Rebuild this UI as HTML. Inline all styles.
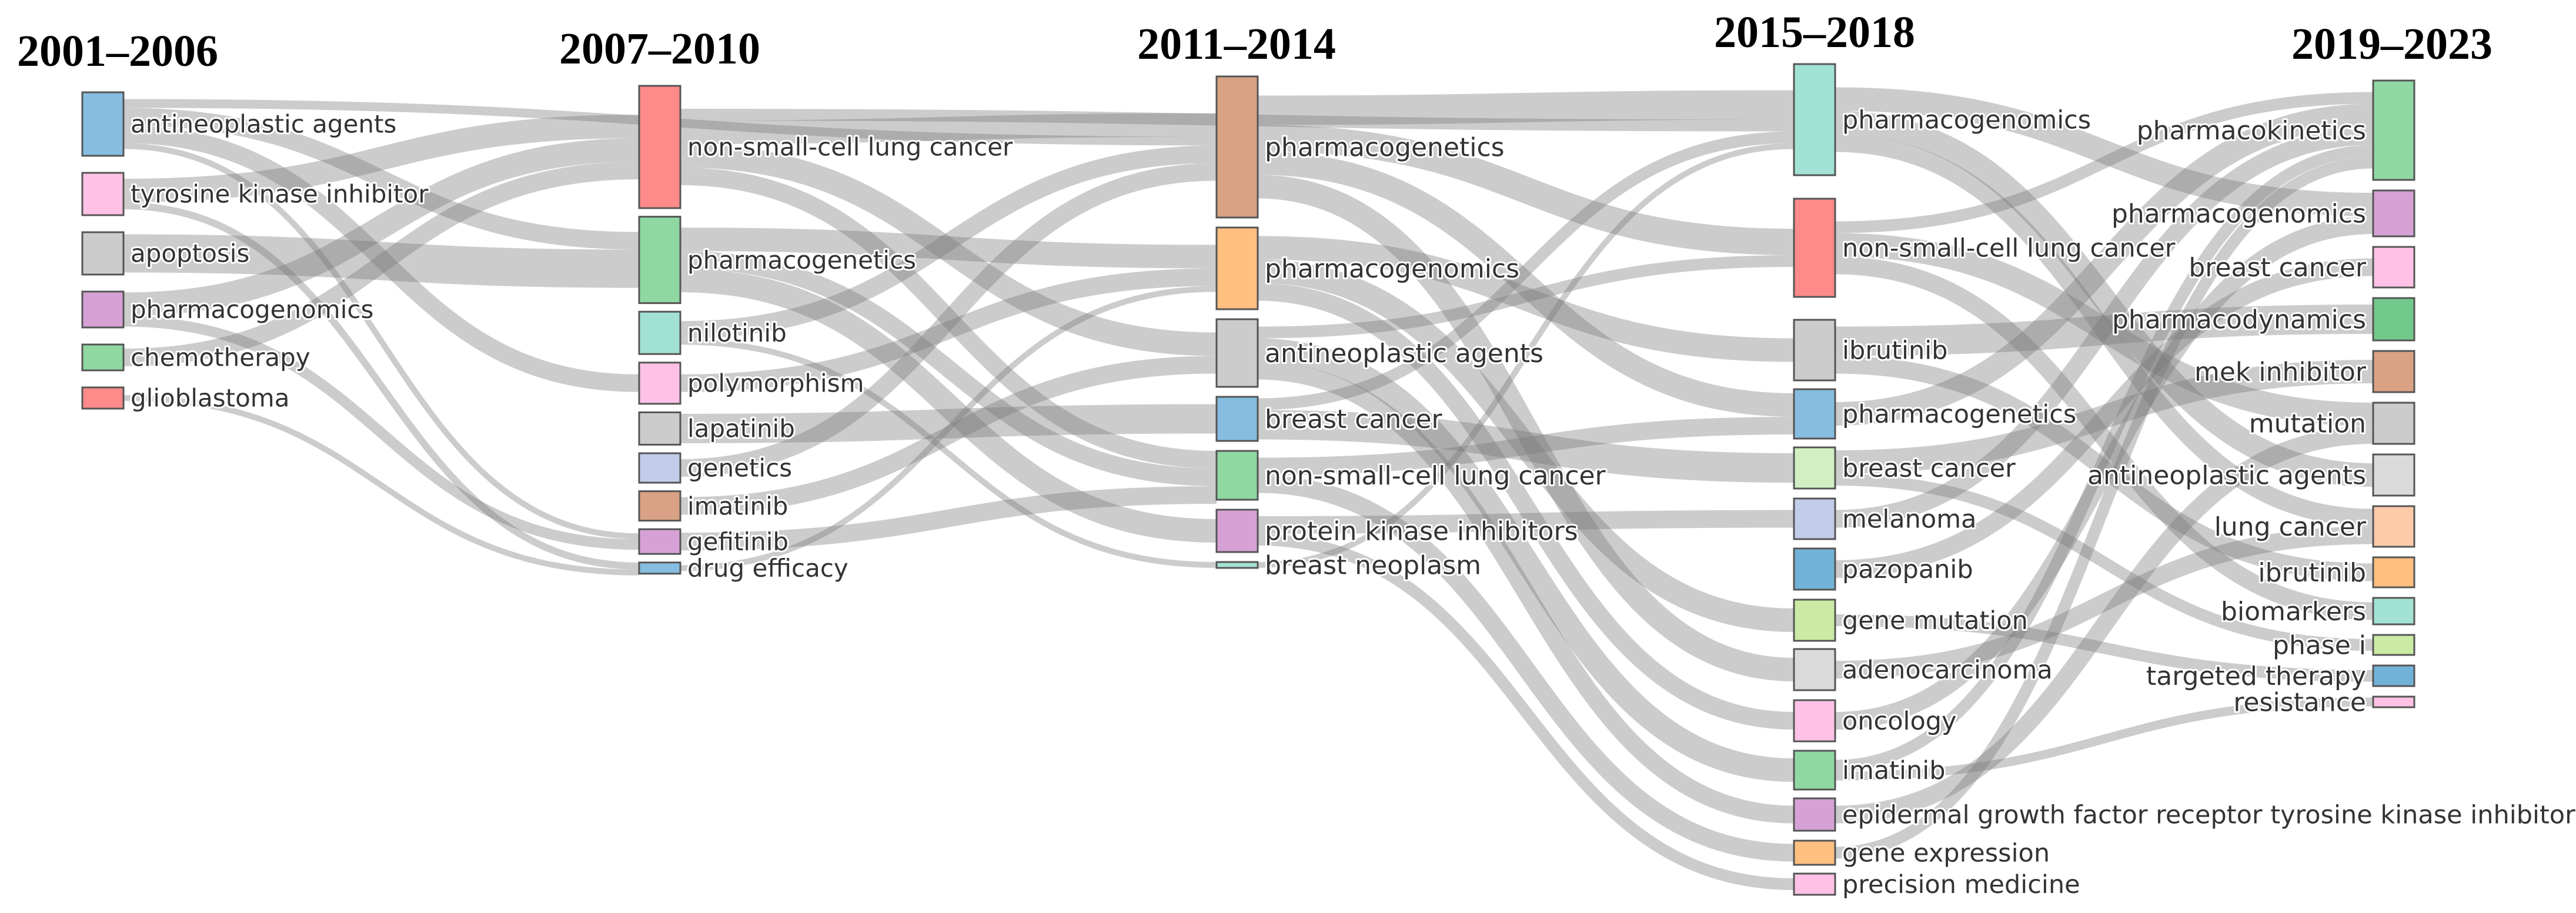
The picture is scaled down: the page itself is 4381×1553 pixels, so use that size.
<!DOCTYPE html>
<html><head><meta charset="utf-8">
<style>
html,body{margin:0;padding:0;background:#fff;}
svg{display:block;}
.lbl{font-family:"DejaVu Sans","Liberation Sans",sans-serif;fill:#333;paint-order:stroke;stroke:#fff;stroke-width:6px;stroke-linejoin:round;}
.ttl{font-family:"Liberation Serif",serif;font-weight:bold;fill:#000;}
</style></head>
<body>
<svg id="chart" width="4381" height="1553" viewBox="0 0 4381 1553" xmlns="http://www.w3.org/2000/svg">
<g id="links"></g>
<g id="nodes"></g>
<g id="titles"></g>
</svg>
<script>
// ---- data ----
const periods = ["2001–2006","2007–2010","2011–2014","2015–2018","2019–2023"];
const col1Names = ["antineoplastic agents","tyrosine kinase inhibitor","apoptosis","pharmacogenomics","chemotherapy","glioblastoma"];
const col1Values = [10.8,7.2,7.2,6.1,4.4,3.6];
const col1Colors = ["#86bde0","#ffc2e6","#cccccc","#d6a2d6","#8fd8a2","#ff8a8a"];
const col2Names = ["non-small-cell lung cancer","pharmacogenetics","nilotinib","polymorphism","lapatinib","genetics","imatinib","gefitinib","drug efficacy"];
const col2Values = [20.8,14.7,7.2,7.0,5.5,5.0,5.0,4.2,1.9];
const col2Colors = ["#ff8a8a","#8fd8a2","#a2e2d4","#ffc2e6","#cccccc","#c2cdea","#d9a284","#d6a2d6","#86bde0"];
const col3Names = ["pharmacogenetics","pharmacogenomics","antineoplastic agents","breast cancer","non-small-cell lung cancer","protein kinase inhibitors","breast neoplasm"];
const col3Values = [24.0,13.9,11.5,7.5,8.3,7.2,1.0];
const col3Colors = ["#d9a284","#ffc080","#cccccc","#86bde0","#8fd8a2","#d6a2d6","#a2e2d4"];
const col4Names = ["pharmacogenomics","non-small-cell lung cancer","ibrutinib","pharmacogenetics","breast cancer","melanoma","pazopanib","gene mutation","adenocarcinoma","oncology","imatinib","epidermal growth factor receptor tyrosine kinase inhibitor","gene expression","precision medicine"];
const col4Values = [18.9,16.7,10.3,8.4,7.0,6.9,7.0,7.0,7.0,7.0,6.6,5.5,4.1,3.6];
const col4Colors = ["#a2e2d4","#ff8a8a","#cccccc","#86bde0","#d2efc4","#c2cdea","#72b2d8","#cbeba4","#dadada","#ffc2e6","#8fd8a2","#d6a2d6","#ffc080","#ffc2e6"];
const col5Names = ["pharmacokinetics","pharmacogenomics","breast cancer","pharmacodynamics","mek inhibitor","mutation","antineoplastic agents","lung cancer","ibrutinib","biomarkers","phase i","targeted therapy","resistance"];
const col5Values = [16.9,7.8,6.9,7.2,7.0,7.0,7.0,6.9,5.1,4.5,3.4,3.5,1.8];
const col5Colors = ["#8fd8a2","#d6a2d6","#ffc2e6","#72c98c","#d9a284","#cccccc","#dadada","#ffcaa8","#ffc080","#a2e2d4","#cbeba4","#72b2d8","#ffc2e6"];
const linkSrcCol = [0,0,0,0,0,0,0,0,0,0,0, 1,1,1,1,1,1,1,1,1,1,1,1,1,1,1, 2,2,2,2,2,2,2,2,2,2,2,2,2,2,2,2,2, 3,3,3,3,3,3,3,3,3,3,3,3,3,3,3,3,3,3,3,3,3];
const linkSrcIdx = [0,0,0,0,1,1,2,3,3,4,5, 0,0,0,0,1,1,2,2,3,4,5,6,7,8,1, 0,0,0,0,1,1,1,2,2,2,3,3,4,4,5,5,6, 0,0,0,1,1,1,2,2,3,4,4,5,6,7,8,9,10,10,11,12];
const linkTgtCol = [2,1,1,1,1,1,1,1,1,1,1, 2,2,2,3,2,2,2,2,2,2,2,2,2,2,2, 3,3,3,3,3,3,3,3,3,3,3,3,3,3,3,3,3, 4,4,4,4,4,4,4,4,4,4,4,4,4,4,4,4,4,4,4,4];
const linkTgtIdx = [0,1,3,7,0,8,1,0,7,0,8, 0,2,4,0,1,5,0,6,1,3,0,2,4,1,4, 0,1,3,8,2,7,9,1,10,11,4,0,3,12,5,13,0, 1,6,7,0,5,9,3,8,0,4,10,0,2,11,7,1,12,0,5,0];
const linkValues = [1.5,3.0,3.0,1.0,4.0,1.2,6.5,4.0,1.8,3.0,1.0, 4.0,4.0,3.0,2.0,4.0,4.0,3.0,1.0,3.0,5.0,3.0,3.0,3.0,1.0,3.0, 5.0,4.5,4.0,4.0,4.0,4.0,3.0,2.0,4.0,3.0,5.0,2.0,3.0,3.0,3.0,2.0,1.0, 4.0,4.0,3.0,2.0,4.0,3.0,5.0,3.0,4.0,4.0,2.0,3.0,3.0,2.0,3.0,3.0,1.5,2.0,3.0,2.0];

// ---- layout (scales) ----
const colNames=[col1Names,col2Names,col3Names,col4Names,col5Names];
const colValues=[col1Values,col2Values,col3Values,col4Values,col5Values];
const colColors=[col1Colors,col2Colors,col3Colors,col4Colors,col5Colors];
const colX=[140,1087,2069,3051,4036];
const nodeW=[70,70,70,70,70];
const colTop=[157,146,130,109,137];
const colGap=[29,14.6,17,19.5,18];
const col4Gaps=[40,39,15,15,17,16,17,14,17,16,15,17,15];
const unit=10;
const titleX=[200,1122,2103,3086,4068];
const titleY=[112,108,100,80,100];
const labelSize=[42,42,44,43,44];
const svgNS="http://www.w3.org/2000/svg";

const nodes=[];
for(let c=0;c<5;c++){
  nodes.push([]);
  let y=colTop[c];
  for(let i=0;i<colNames[c].length;i++){
    const h=colValues[c][i]*unit;
    nodes[c].push({x:colX[c],y:y,h:h,out:0,inn:0});
    y+=h+(c===3?(col4Gaps[i]||15):colGap[c]);
  }
}
const L=[];
for(let k=0;k<linkValues.length;k++){
  L.push({sc:linkSrcCol[k],si:linkSrcIdx[k],tc:linkTgtCol[k],ti:linkTgtIdx[k],v:linkValues[k]});
}
const bySrc=L.slice().sort((a,b)=>nodes[a.tc][a.ti].y-nodes[b.tc][b.ti].y);
bySrc.forEach(l=>{const n=nodes[l.sc][l.si];const w=l.v*unit;l.y0=n.y+n.out+w/2;n.out+=w;});
const byTgt=L.slice().sort((a,b)=>nodes[a.sc][a.si].y-nodes[b.sc][b.si].y);
byTgt.forEach(l=>{const n=nodes[l.tc][l.ti];const w=l.v*unit;l.y1=n.y+n.inn+w/2;n.inn+=w;});
L.forEach(l=>{
  const s=nodes[l.sc][l.si], t=nodes[l.tc][l.ti];
  l.y0+=Math.max(0,(s.h-s.out)/2);
  l.y1+=Math.max(0,(t.h-t.inn)/2);
});
const gLinks=document.getElementById('links');
L.forEach((l,k)=>{
  const x0=colX[l.sc]+nodeW[l.sc], x1=colX[l.tc];
  const xm=(x0+x1)/2;
  const p=document.createElementNS(svgNS,'path');
  p.setAttribute('d',`M${x0},${l.y0} C${xm},${l.y0} ${xm},${l.y1} ${x1},${l.y1}`);
  p.setAttribute('fill','none');
  p.setAttribute('stroke','rgba(120,120,120,0.38)');
  p.setAttribute('stroke-width',l.v*unit);
  
  
  gLinks.appendChild(p);
});
const gNodes=document.getElementById('nodes');
for(let c=0;c<5;c++){
  nodes[c].forEach((n,i)=>{
    const r=document.createElementNS(svgNS,'rect');
    r.setAttribute('x',n.x);r.setAttribute('y',n.y);
    r.setAttribute('width',nodeW[c]);r.setAttribute('height',n.h);
    r.setAttribute('fill',colColors[c][i]);r.setAttribute('stroke','#555');r.setAttribute('stroke-width','3');
    
    
    gNodes.appendChild(r);
    const t=document.createElementNS(svgNS,'text');
    t.setAttribute('class','lbl');
    t.setAttribute('font-size',labelSize[c]);
    if(c===4){t.setAttribute('x',n.x-12);t.setAttribute('text-anchor','end');}
    else{t.setAttribute('x',n.x+nodeW[c]+12);}
    t.setAttribute('y',n.y+n.h/2+labelSize[c]*0.35);
    t.textContent=colNames[c][i];
    
    
    gNodes.appendChild(t);
  });
}
const gT=document.getElementById('titles');
periods.forEach((p,i)=>{
  const t=document.createElementNS(svgNS,'text');
  t.setAttribute('class','ttl');t.setAttribute('font-size','76');
  t.setAttribute('x',titleX[i]);t.setAttribute('y',titleY[i]);t.setAttribute('text-anchor','middle');
  t.textContent=p;
  
  
  gT.appendChild(t);
});
</script>
</body></html>
